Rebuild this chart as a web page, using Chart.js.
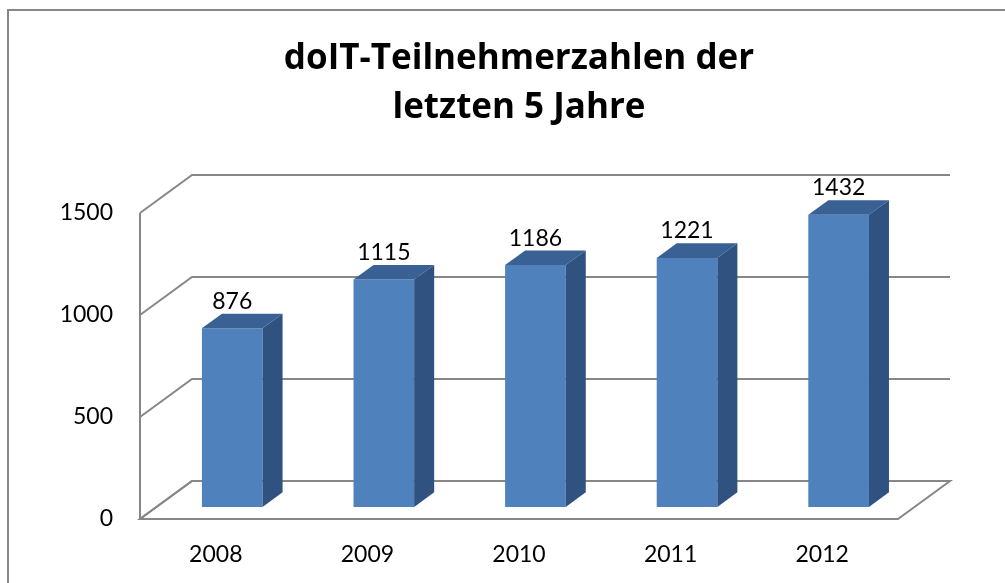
<!DOCTYPE html>
<html>
<head>
<meta charset="utf-8">
<script src="https://cdn.jsdelivr.net/npm/chart.js@4/dist/chart.umd.min.js"></script>
<style>
  html, body { margin: 0; padding: 0; background: #fff; overflow: hidden; }
  #frame { position: absolute; left: 7px; top: 9px; width: 1200px; height: 800px; border: 2px solid #878787; box-sizing: border-box; }
  #wrap { position: absolute; left: 0; top: 0; width: 1005px; height: 583px; }
</style>
</head>
<body>
<div id="frame"></div>
<div id="wrap"><canvas id="c" width="1005" height="583"></canvas></div>
<script>
const categories = ['2008', '2009', '2010', '2011', '2012'];
const participants = [876, 1115, 1186, 1221, 1432];
const yTicks = [0, 500, 1000, 1500];
const titleLines = ['doIT-Teilnehmerzahlen der', 'letzten 5 Jahre'];

const DEPTH = { dx: 52, dy: -38 };   // back wall offset
const BAR_POS = 0.316;               // bar front face depth fraction
const BAR_DEPTH = 0.385;             // bar depth fraction
const GRID = '#878787';

const box3d = {
  id: 'box3d',
  beforeDatasetsDraw(chart) {
    const { ctx, chartArea: a, scales: { y } } = chart;
    ctx.save();
    ctx.strokeStyle = GRID;
    ctx.lineWidth = 2;
    ctx.lineCap = 'butt';
    const y0 = y.getPixelForValue(0);
    // floor
    ctx.beginPath();
    ctx.moveTo(a.left, y0);
    ctx.lineTo(a.right, y0);
    ctx.lineTo(a.right + DEPTH.dx, y0 + DEPTH.dy);
    ctx.lineTo(a.left + DEPTH.dx, y0 + DEPTH.dy);
    ctx.closePath();
    ctx.stroke();
    // back wall gridlines + left wall diagonals
    yTicks.forEach(v => {
      const py = y.getPixelForValue(v);
      ctx.beginPath();
      ctx.moveTo(a.left, py);
      ctx.lineTo(a.left + DEPTH.dx, py + DEPTH.dy);
      ctx.lineTo(a.right + DEPTH.dx, py + DEPTH.dy);
      ctx.stroke();
    });
    // left front vertical edge
    ctx.beginPath();
    ctx.moveTo(a.left, y.getPixelForValue(yTicks[yTicks.length - 1]));
    ctx.lineTo(a.left, y0);
    ctx.stroke();
    ctx.restore();
    // shift bar front faces into the depth of the box
    ctx.save();
    ctx.translate(DEPTH.dx * BAR_POS, DEPTH.dy * BAR_POS);
  },
  afterDatasetsDraw(chart) {
    const { ctx } = chart;
    ctx.restore();
    const ox = DEPTH.dx * BAR_POS, oy = DEPTH.dy * BAR_POS;
    const ddx = DEPTH.dx * BAR_DEPTH, ddy = DEPTH.dy * BAR_DEPTH;
    const meta = chart.getDatasetMeta(0);
    ctx.save();
    meta.data.forEach((bar, i) => {
      const p = bar.getProps(['x', 'y', 'base', 'width'], true);
      const l = p.x - p.width / 2 + ox, r = p.x + p.width / 2 + ox;
      const t = p.y + oy, b = p.base + oy;
      // top face
      ctx.fillStyle = '#3a6194';
      ctx.beginPath();
      ctx.moveTo(l, t); ctx.lineTo(r, t); ctx.lineTo(r + ddx, t + ddy); ctx.lineTo(l + ddx, t + ddy);
      ctx.closePath(); ctx.fill();
      // side face
      ctx.fillStyle = '#2f5281';
      ctx.beginPath();
      ctx.moveTo(r, t); ctx.lineTo(r + ddx, t + ddy); ctx.lineTo(r + ddx, b + ddy); ctx.lineTo(r, b);
      ctx.closePath(); ctx.fill();
      // data label
      ctx.fillStyle = '#000';
      ctx.font = '23px Lato';
      ctx.textAlign = 'center';
      ctx.textBaseline = 'alphabetic';
      ctx.fillText(String(participants[i]), p.x + ox, t - 19.5);
    });
    ctx.restore();
  }
};

new Chart(document.getElementById('c'), {
  type: 'bar',
  data: {
    labels: categories,
    datasets: [{
      data: participants,
      backgroundColor: '#4f81bd',
      borderWidth: 0,
      categoryPercentage: 1,
      barPercentage: 0.4,
      clip: false
    }]
  },
  options: {
    responsive: false,
    animation: false,
    layout: { padding: { left: 0, right: 107, top: 0, bottom: 0 } },
    plugins: {
      legend: { display: false },
      tooltip: { enabled: false },
      title: {
        display: true,
        fullSize: false,
        text: titleLines,
        color: '#000',
        font: { family: 'Open Sans', size: 35, weight: 'bold', lineHeight: '49px' },
        padding: { top: 35, bottom: 80 }
      }
    },
    scales: {
      x: {
        grid: { display: false, drawTicks: false, tickLength: 0 },
        border: { display: false },
        ticks: { color: '#000', font: { family: 'Lato', size: 23 }, padding: 22, maxRotation: 0 },
        afterFit(s) { s.height = 64; }
      },
      y: {
        min: 0, max: 1500,
        afterBuildTicks(s) { s.ticks = yTicks.map(v => ({ value: v })); },
        grid: { display: false, drawTicks: false, tickLength: 0 },
        border: { display: false },
        ticks: { color: '#000', font: { family: 'Lato', size: 23 }, padding: 27, callback: v => String(v) },
        afterFit(s) { s.width = 140; }
      }
    }
  },
  plugins: [box3d]
});
</script>
</body>
</html>
